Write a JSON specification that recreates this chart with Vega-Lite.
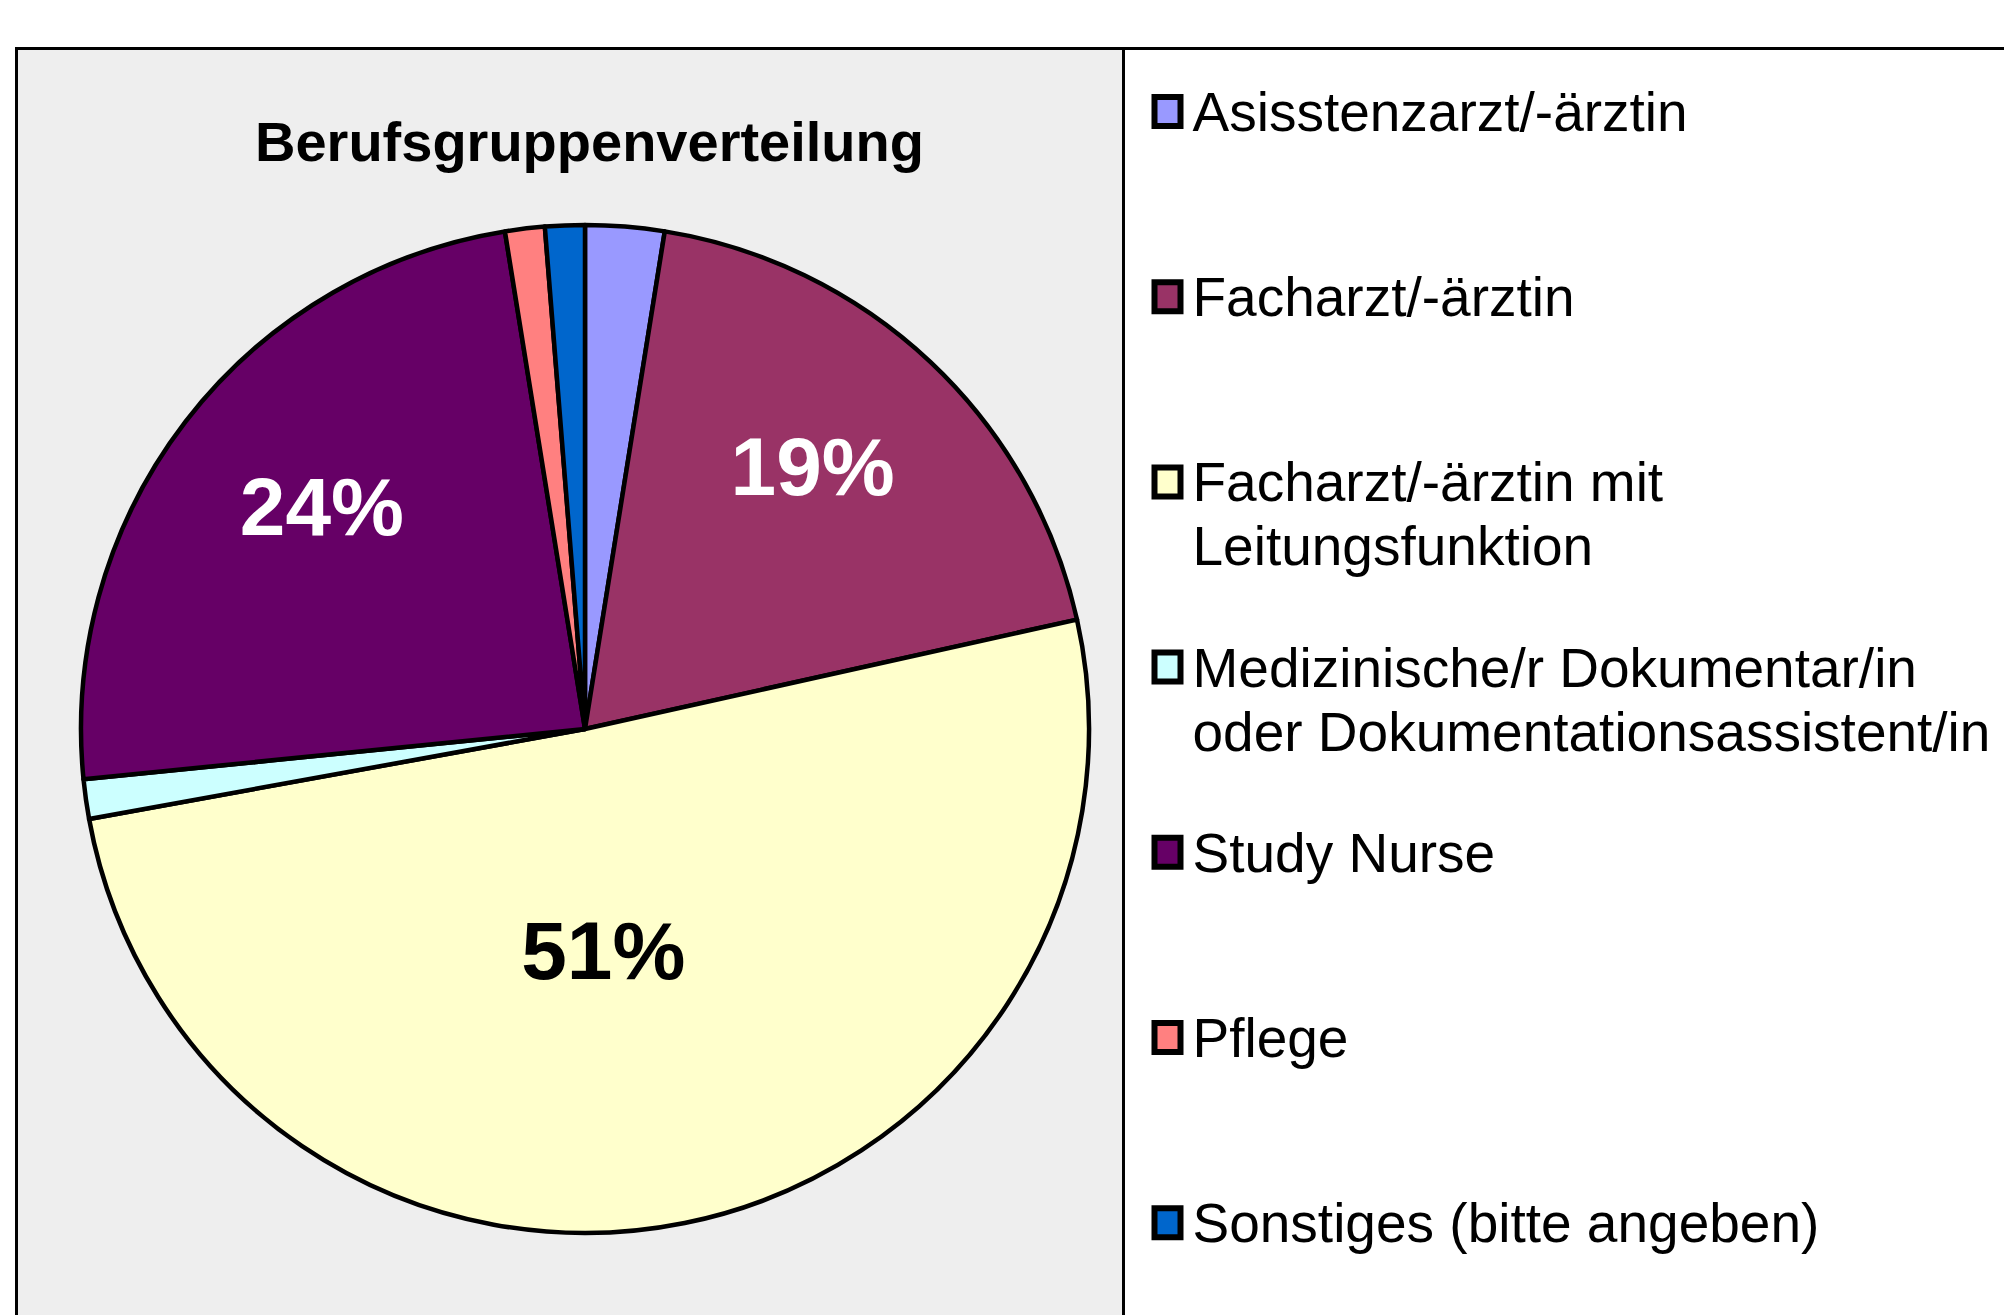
{
  "$schema": "https://vega.github.io/schema/vega-lite/v6.json",
  "width": 1107,
  "height": 1270,
  "autosize": {"type": "none"},
  "padding": {"left": 16.5, "top": 48.5, "right": 880.5, "bottom": -3.5},
  "background": "white",
  "view": {"fill": "#EEEEEE", "stroke": "black", "strokeWidth": 3},
  "title": {
    "text": "Berufsgruppenverteilung",
    "anchor": "middle",
    "frame": "group",
    "orient": "top",
    "offset": -169.5,
    "baseline": "alphabetic",
    "dx": 19.5,
    "font": "Liberation Sans",
    "fontSize": 56,
    "fontWeight": "bold",
    "color": "black"
  },
  "data": {
    "values": [
      {"k": 1, "Berufsgruppe": "Asisstenzarzt/-ärztin", "share": 0.0253},
      {"k": 2, "Berufsgruppe": "Facharzt/-ärztin", "share": 0.1899},
      {"k": 3, "Berufsgruppe": "Facharzt/-ärztin mit Leitungsfunktion", "share": 0.5063},
      {"k": 4, "Berufsgruppe": "Medizinische/r Dokumentar/in oder Dokumentationsassistent/in", "share": 0.0127},
      {"k": 5, "Berufsgruppe": "Study Nurse", "share": 0.2405},
      {"k": 6, "Berufsgruppe": "Pflege", "share": 0.0127},
      {"k": 7, "Berufsgruppe": "Sonstiges (bitte angeben)", "share": 0.0127}
    ]
  },
  "layer": [
    {
      "mark": {"type": "arc", "x": 568.5, "y": 680.5, "radius": 504, "stroke": "black", "strokeWidth": 4.5, "strokeJoin": "round"},
      "encoding": {
        "theta": {"field": "share", "type": "quantitative", "stack": true},
        "order": {"field": "k", "type": "quantitative", "sort": "ascending"},
        "color": {
          "field": "Berufsgruppe",
          "type": "nominal",
          "sort": null,
          "scale": {
            "domain": ["Asisstenzarzt/-ärztin", "Facharzt/-ärztin", "Facharzt/-ärztin mit Leitungsfunktion", "Medizinische/r Dokumentar/in oder Dokumentationsassistent/in", "Study Nurse", "Pflege", "Sonstiges (bitte angeben)"],
            "range": ["#9999FF", "#993366", "#FFFFCC", "#CCFFFF", "#660066", "#FF8080", "#0066CC"]
          },
          "legend": {
            "title": " ",
            "titleOrient": "bottom",
            "titleFontSize": 20,
            "titlePadding": 30,
            "orient": "right",
            "offset": 0,
            "padding": 55,
            "strokeColor": "black",
            "fillColor": "white",
            "symbolType": "M-1,-2.615H1V-0.385H-1Z",
            "symbolSize": 676,
            "symbolStrokeWidth": 6,
            "symbolStrokeColor": "black",
            "symbolOffset": -38.5,
            "labelFont": "Liberation Sans",
            "labelFontSize": 55,
            "labelColor": "black",
            "labelBaseline": "alphabetic",
            "labelLimit": 0,
            "labelOffset": -2.5,
            "labelExpr": "datum.label == 'Facharzt/-ärztin mit Leitungsfunktion' ? ['Facharzt/-ärztin mit', 'Leitungsfunktion'] : datum.label == 'Medizinische/r Dokumentar/in oder Dokumentationsassistent/in' ? ['Medizinische/r Dokumentar/in', 'oder Dokumentationsassistent/in'] : datum.label",
            "gridAlign": "all",
            "rowPadding": 63.2,
            "encode": {
              "legend": {"update": {"strokeWidth": {"value": 3}}},
              "labels": {"update": {"lineHeight": {"value": 64}}},
              "symbols": {"update": {"stroke": {"value": "black"}, "strokeWidth": {"value": 6}, "opacity": {"value": 1}}}
            }
          }
        }
      }
    },
    {
      "mark": {"type": "text", "x": 568.5, "y": 680.5, "radius": 332, "dy": -17, "font": "Liberation Sans", "fontSize": 82, "fontWeight": "bold", "color": "white", "baseline": "middle", "align": "center"},
      "encoding": {
        "theta": {"field": "share", "type": "quantitative", "stack": true},
        "order": {"field": "k", "type": "quantitative", "sort": "ascending"},
        "detail": {"field": "Berufsgruppe", "type": "nominal"},
        "text": {"condition": {"test": "datum.share < 0.1 || datum.share > 0.3", "value": ""}, "field": "share", "type": "quantitative", "format": ".0%"}
      }
    },
    {
      "mark": {"type": "text", "x": 568.5, "y": 680.5, "radius": 224, "dx": -26, "dy": 5, "font": "Liberation Sans", "fontSize": 82, "fontWeight": "bold", "color": "black", "baseline": "middle", "align": "center"},
      "encoding": {
        "theta": {"field": "share", "type": "quantitative", "stack": true},
        "order": {"field": "k", "type": "quantitative", "sort": "ascending"},
        "detail": {"field": "Berufsgruppe", "type": "nominal"},
        "text": {"condition": {"test": "datum.share <= 0.3", "value": ""}, "field": "share", "type": "quantitative", "format": ".0%"}
      }
    }
  ],
  "config": {
    "view": {"fill": "#EEEEEE", "stroke": "black", "strokeWidth": 3},
    "style": {"cell": {"fill": "#EEEEEE", "stroke": "black", "strokeWidth": 3}},
    "font": "Liberation Sans"
  }
}
